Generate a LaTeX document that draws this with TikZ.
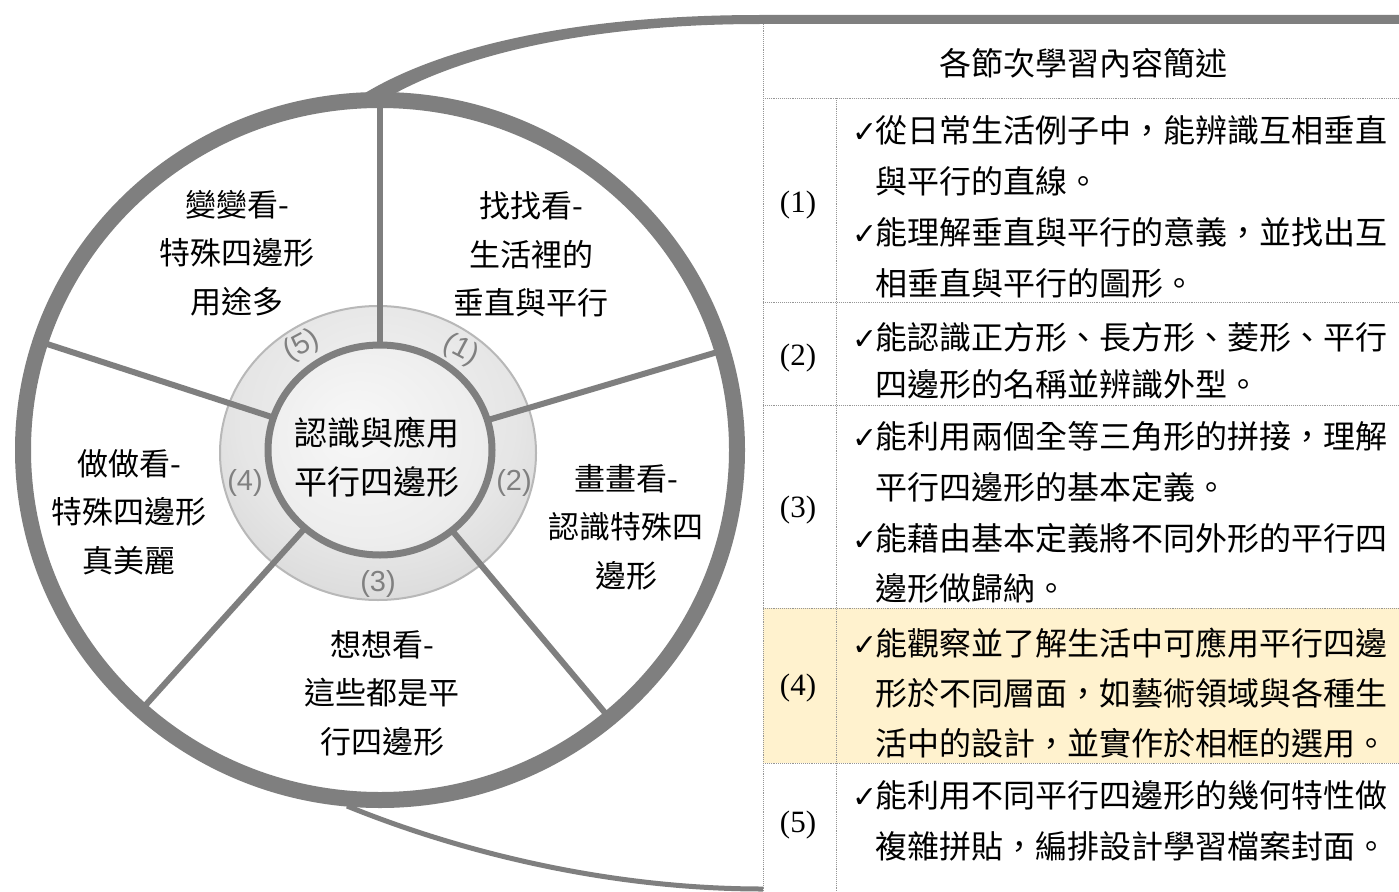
\documentclass[tikz,border=0pt]{standalone}
\usepackage{fontspec}
\setmainfont{Liberation Serif}
\newfontfamily\cjk{Noto Sans CJK TC}
\newfontfamily\lsans{Liberation Sans}
\newfontfamily\dv{DejaVu Sans}
\definecolor{ringgray}{RGB}{127,127,127}
\definecolor{dotgray}{RGB}{150,150,150}
\definecolor{hlyellow}{RGB}{255,242,206}
\definecolor{hubgray}{RGB}{128,128,128}
\pgfdeclareradialshading{discshade}{\pgfpoint{0bp}{10bp}}{color(0bp)=(white!95!black); color(22bp)=(white!90!black); color(34bp)=(white!84!black); color(50bp)=(white!76!black)}
\pgfdeclareradialshading{innershade}{\pgfpoint{-6bp}{6bp}}{color(0bp)=(white!97!black); color(25bp)=(white!93!black); color(50bp)=(white!85!black)}
\newcommand{\ck}{\makebox[23pt][l]{\dv\fontsize{30}{30}\selectfont ✓}}
\begin{document}
\begin{tikzpicture}[x=1pt,y=-1pt,
  ring/.style={draw=ringgray, line width=16pt},
  divider/.style={draw=ringgray, line width=6pt},
  tline/.style={draw=dotgray, line width=0.9pt, densely dotted},
  pietext/.style={font=\cjk\fontsize{31}{48.5}\selectfont, inner sep=0pt, align=center, text=black},
  hubtext/.style={font=\cjk\fontsize{33}{49}\selectfont, inner sep=0pt, align=center, text=black},
  hublabel/.style={font=\lsans\fontsize{29}{29}\selectfont, text=hubgray, inner sep=0pt},
  rowtext/.style={font=\cjk\fontsize{32}{32}\selectfont, inner sep=0pt, anchor=west, text=black},
  rowlabel/.style={font=\fontsize{31}{31}\selectfont, inner sep=0pt, text=black},
]
% background / bounding box
\fill[white] (0,0) rectangle (1399,891);
\useasboundingbox (0,0) rectangle (1399,891);

% ---------- table ----------
\fill[hlyellow] (763,608) rectangle (1399,763);
\draw[tline] (763,22) -- (763,891);
\draw[tline] (836,98) -- (836,891);
\foreach \yy in {98,302,405,608,763} {\draw[tline] (763,\yy) -- (1399,\yy);}

\node[font=\cjk\fontsize{32}{32}\selectfont, inner sep=0pt] (head) at (1083,63) {各節次學習內容簡述};

\node[rowlabel] (l1) at (798,205) {(1)};
\node[rowlabel] (l2) at (798,358) {(2)};
\node[rowlabel] (l3) at (798,510) {(3)};
\node[rowlabel] (l4) at (798,688) {(4)};
\node[rowlabel] (l5) at (798,825) {(5)};

\node[rowtext] (r1a) at (852,130) {\ck 從日常生活例子中，能辨識互相垂直};
\node[rowtext] (r1b) at (875,181) {與平行的直線。};
\node[rowtext] (r1c) at (852,232) {\ck 能理解垂直與平行的意義，並找出互};
\node[rowtext] (r1d) at (875,283) {相垂直與平行的圖形。};
\node[rowtext] (r2a) at (852,337) {\ck 能認識正方形、長方形、菱形、平行};
\node[rowtext] (r2b) at (875,384) {四邊形的名稱並辨識外型。};
\node[rowtext] (r3a) at (852,436) {\ck 能利用兩個全等三角形的拼接，理解};
\node[rowtext] (r3b) at (875,487) {平行四邊形的基本定義。};
\node[rowtext] (r3c) at (852,538) {\ck 能藉由基本定義將不同外形的平行四};
\node[rowtext] (r3d) at (875,588) {邊形做歸納。};
\node[rowtext] (r4a) at (852,643) {\ck 能觀察並了解生活中可應用平行四邊};
\node[rowtext] (r4b) at (875,693) {形於不同層面，如藝術領域與各種生};
\node[rowtext] (r4c) at (875,743) {活中的設計，並實作於相框的選用。};
\node[rowtext] (r5a) at (852,795) {\ck 能利用不同平行四邊形的幾何特性做};
\node[rowtext] (r5b) at (875,846) {複雜拼貼，編排設計學習檔案封面。};

% ---------- swooshes ----------
\fill[ringgray] (365,93) .. controls (445,45) and (580,15) .. (760,15) -- (1399,15) -- (1399,24)
  -- (760,24) .. controls (585,24) and (455,56) .. (380,102) -- cycle;
\draw[ringgray, line width=5pt] (347,806) .. controls (450,848) and (600,889) .. (763,889);

% ---------- pie ----------
\fill[white] (380,450) ellipse [x radius=357, y radius=350];
\path[shading=discshade, draw=white!72!black, line width=2pt] (378,453) ellipse [x radius=158, y radius=147];
\foreach \a in {-90,-16.5,50,132,198} {
  \draw[divider, shift={(380,450)}] (\a:112 and 105) -- (\a:357 and 350);
}
\path[shading=innershade] (380,450) ellipse [x radius=112, y radius=105];
\draw[draw=ringgray, line width=7pt] (380,450) ellipse [x radius=112, y radius=105];
\draw[ring] (380,450) ellipse [x radius=357, y radius=350];

% hub labels
\node[hublabel, rotate=28] (h5) at (302,346) {(5)};
\node[hublabel, rotate=-28] (h1) at (461,350) {(1)};
\node[hublabel] (h2) at (514,483) {(2)};
\node[hublabel] (h4) at (245,483) {(4)};
\node[hublabel] (h3) at (378,584) {(3)};

% centre text
\node[hubtext] (centre) at (377,457.5) {認識與應用\\平行四邊形};

% segment texts
\node[pietext] (s5) at (237,253) {變變看-\\特殊四邊形\\用途多};
\node[pietext] (s1) at (531,254.5) {找找看-\\生活裡的\\垂直與平行};
\node[pietext] (s2) at (626,527) {畫畫看-\\認識特殊四\\邊形};
\node[pietext] (s3) at (382,693) {想想看-\\這些都是平\\行四邊形};
\node[pietext] (s4) at (129,512) {做做看-\\特殊四邊形\\真美麗};
\end{tikzpicture}
\end{document}
